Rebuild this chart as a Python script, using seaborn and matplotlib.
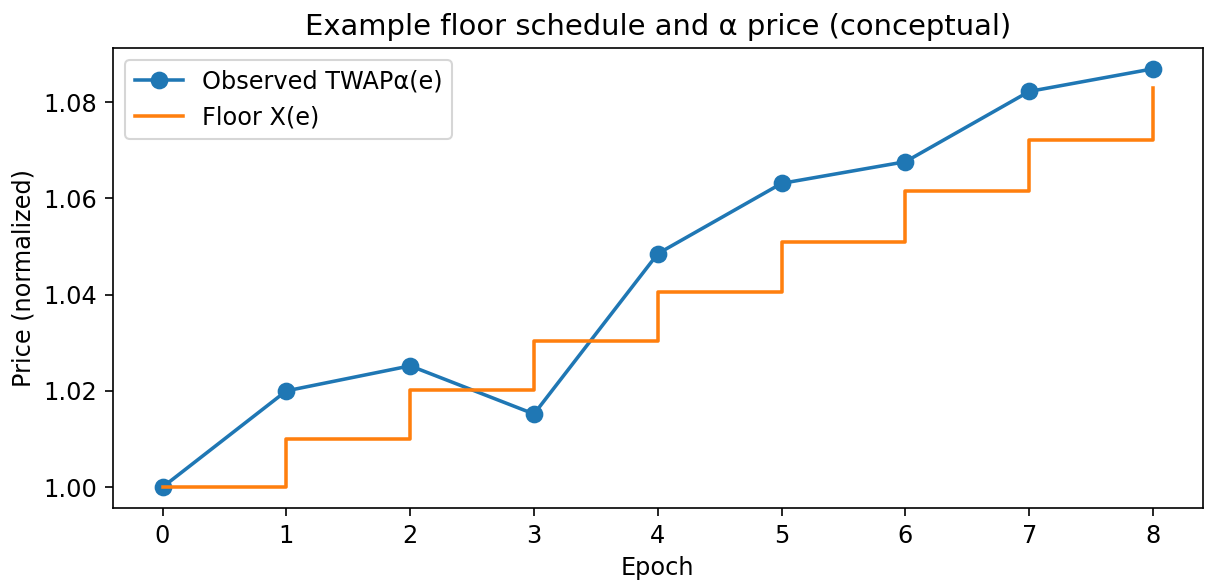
import matplotlib as mpl
mpl.use('Agg')
import matplotlib.pyplot as plt
import seaborn as sns
import pandas as pd

epochs = [0, 1, 2, 3, 4, 5, 6, 7, 8]
observed = [1.000, 1.020, 1.0252, 1.0152, 1.0485, 1.0631, 1.0676, 1.0822, 1.0869]
floor = [1.000, 1.010, 1.0201, 1.0303, 1.0406, 1.0510, 1.0615, 1.0721, 1.0829]

df = pd.DataFrame({'epoch': epochs, 'observed': observed, 'floor': floor})

# reference looks rendered ~15% bigger than default matplotlib text
plt.rcParams['font.size'] = 11.5
plt.rcParams['xtick.major.size'] = 4
plt.rcParams['ytick.major.size'] = 4

fig, ax = plt.subplots(figsize=(1205 / 150, 584 / 150), dpi=150)
fig.subplots_adjust(left=0.0938, right=0.998, top=0.918, bottom=0.130)

sns.lineplot(data=df, x='epoch', y='observed', ax=ax, color='#1f77b4',
             marker='o', markersize=7.5, markeredgecolor='#1f77b4',
             markeredgewidth=1, linewidth=1.7, label='Observed TWAPα(e)')
sns.lineplot(data=df, x='epoch', y='floor', ax=ax, color='#ff7f0e',
             drawstyle='steps-post', linewidth=1.7, label='Floor X(e)')

ax.set_title('Example floor schedule and α price (conceptual)', fontsize=13.9)
ax.set_xlabel('Epoch', fontsize=11.5)
ax.set_ylabel('Price (normalized)', fontsize=11.5)
ax.tick_params(labelsize=11.5)
ax.legend(loc='upper left', fontsize=11.5)

plt.savefig('out.png', dpi=150)
